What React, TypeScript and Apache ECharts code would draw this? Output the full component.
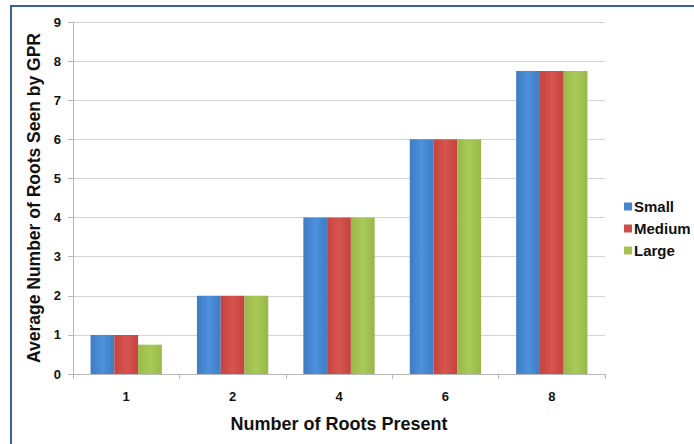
import React, { useEffect, useRef } from "react";
import * as echarts from "echarts";

const categories = ["1", "2", "4", "6", "8"];
const smallValues = [1, 2, 4, 6, 7.75];
const mediumValues = [1, 2, 4, 6, 7.75];
const largeValues = [0.75, 2, 4, 6, 7.75];
const seriesNames = ["Small", "Medium", "Large"];

const FONT = "'Liberation Sans', Arial, sans-serif";

function barGradient(edge: string, mid: string) {
  return new echarts.graphic.LinearGradient(0, 0, 1, 0, [
    { offset: 0, color: edge },
    { offset: 0.5, color: mid },
    { offset: 1, color: edge },
  ]);
}

export default function App() {
  const ref = useRef<HTMLDivElement>(null);

  useEffect(() => {
    if (!ref.current) return;
    const chart = echarts.init(ref.current, null, { renderer: "svg" });
    const colors = [
      { edge: "#3f7cc4", mid: "#4d90dc", legend: "#4a86cf" },
      { edge: "#c4433f", mid: "#d6554f", legend: "#cf4c47" },
      { edge: "#98b84a", mid: "#a9ca58", legend: "#a2c34f" },
    ];
    const values = [smallValues, mediumValues, largeValues];

    chart.setOption({
      animation: false,
      backgroundColor: "#ffffff",
      textStyle: { fontFamily: FONT },
      grid: { left: 73, right: 89, top: 22, bottom: 70 },
      legend: {
        orient: "vertical",
        left: 619,
        top: 194,
        itemWidth: 8,
        itemHeight: 8,
        itemGap: 7,
        icon: "rect",
        textStyle: { fontFamily: FONT, fontSize: 15, fontWeight: "bold", color: "#111", padding: [0, 0, 0, -3] },
        data: seriesNames.map((n, i) => ({ name: n, itemStyle: { color: colors[i].legend } })),
      },
      xAxis: {
        type: "category",
        data: categories,
        name: "Number of Roots Present",
        nameLocation: "middle",
        nameGap: 41,
        nameTextStyle: { fontFamily: FONT, fontSize: 18, fontWeight: "bold", color: "#111" },
        axisLine: { lineStyle: { color: "#b8b8b8" } },
        axisTick: { show: true, length: 5, lineStyle: { color: "#b8b8b8" } },
        axisLabel: { fontFamily: FONT, fontSize: 13, fontWeight: "bold", color: "#111", margin: 16 },
      },
      yAxis: {
        type: "value",
        min: 0,
        max: 9,
        interval: 1,
        name: "Average Number of Roots Seen by GPR",
        nameLocation: "middle",
        nameGap: 29,
        nameTextStyle: { fontFamily: FONT, fontSize: 17.5, fontWeight: "bold", color: "#111" },
        axisLine: { show: true, lineStyle: { color: "#b8b8b8" } },
        axisTick: { show: true, length: 5, lineStyle: { color: "#b8b8b8" } },
        splitLine: { lineStyle: { color: "#d4d4d4" } },
        axisLabel: { fontFamily: FONT, fontSize: 13, fontWeight: "bold", color: "#111", margin: 12 },
      },
      series: seriesNames.map((name, i) => ({
        name,
        type: "bar",
        data: values[i],
        barGap: "0%",
        barCategoryGap: "33%",
        itemStyle: { color: barGradient(colors[i].edge, colors[i].mid) },
      })),
      graphic: [
        {
          type: "line",
          shape: { x1: 10, y1: 6, x2: 694, y2: 6 },
          style: { stroke: "#3d6394", lineWidth: 2 },
        },
        {
          type: "line",
          shape: { x1: 11, y1: 6, x2: 11, y2: 444 },
          style: { stroke: "#3d6394", lineWidth: 2 },
        },
      ],
    });

    return () => chart.dispose();
  }, []);

  return (
    <div
      ref={ref}
      style={{ position: "absolute", left: 0, top: 0, width: 694, height: 444 }}
    />
  );
}
